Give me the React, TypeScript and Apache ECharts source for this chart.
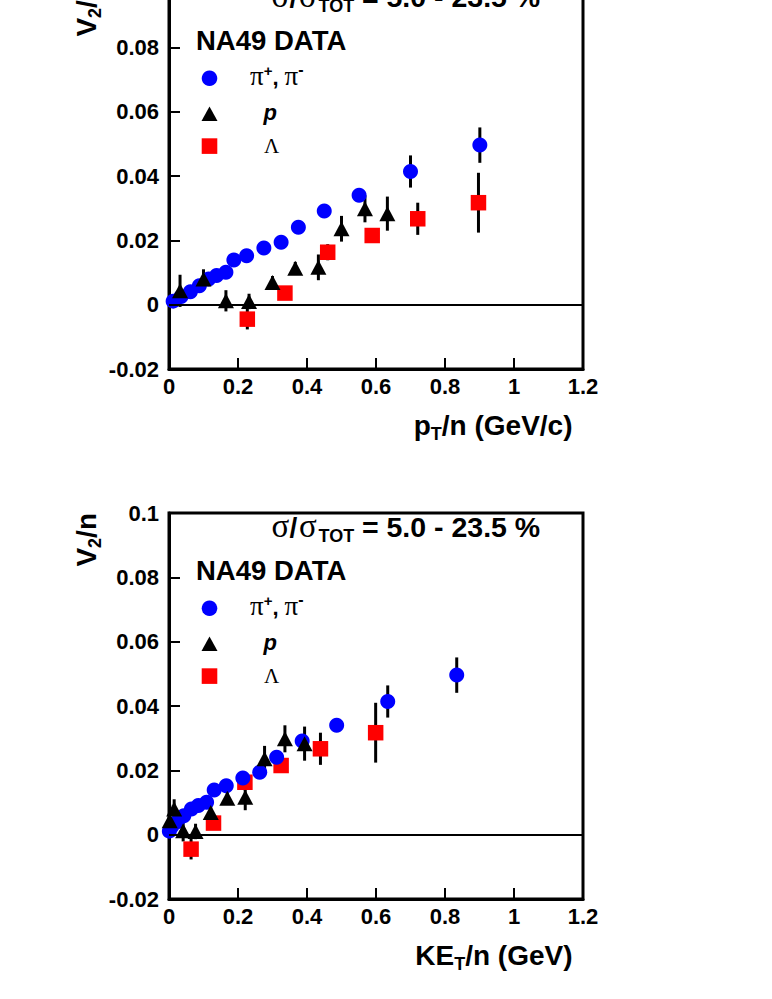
import React, { useEffect, useRef } from 'react';
import * as echarts from 'echarts';

// ---------------- data ----------------
const xTickInterval = 0.2;
const xRange = [0, 1.2];
const yRange = [-0.02, 0.1];
const yTickInterval = 0.02;

// pi+, pi-
const pionPtN = [0.012, 0.035, 0.062, 0.088, 0.115, 0.138, 0.165, 0.188, 0.225, 0.275, 0.325, 0.375, 0.45, 0.551, 0.7, 0.901];
const pionKeN = [0.001, 0.008, 0.024, 0.043, 0.065, 0.085, 0.109, 0.131, 0.166, 0.214, 0.263, 0.312, 0.386, 0.486, 0.634, 0.834];
const pionV2 = [0.0011, 0.0025, 0.004, 0.0059, 0.008, 0.0091, 0.0101, 0.0139, 0.0152, 0.0176, 0.0194, 0.0241, 0.0291, 0.034, 0.0414, 0.0496];
const pionErr = [0.0005, 0.0005, 0.0005, 0.0005, 0.0005, 0.0005, 0.0006, 0.0006, 0.0007, 0.0008, 0.0009, 0.001, 0.0012, 0.0018, 0.005, 0.0055];

// p
const protonPtN = [0.032, 0.1, 0.165, 0.232, 0.3, 0.366, 0.433, 0.5, 0.568, 0.633];
const protonKeN = [0.002, 0.015, 0.041, 0.077, 0.121, 0.169, 0.221, 0.277, 0.336, 0.393];
const protonV2 = [0.0043, 0.008, 0.0012, 0.001, 0.0069, 0.0113, 0.0116, 0.0236, 0.0298, 0.0283];
const protonErr = [0.005, 0.003, 0.0033, 0.0024, 0.002, 0.002, 0.004, 0.004, 0.0042, 0.0053];

// Lambda
const lambdaPtN = [0.227, 0.336, 0.46, 0.589, 0.721, 0.897];
const lambdaKeN = [0.064, 0.129, 0.22, 0.325, 0.439, 0.599];
const lambdaV2 = [-0.0045, 0.0036, 0.0163, 0.0215, 0.0267, 0.0317];
const lambdaErr = [0.0032, 0.002, 0.0025, 0.002, 0.005, 0.0093];

const centralityText = ' = 5.0 - 23.5 %';
const experimentText = 'NA49 DATA';

// ---------------- layout / style ----------------
const OFF = 30; // chart div starts 30px above the page top (top panel is cropped)
const PANEL_TOPS = [-17, 513]; // page y of each frame's top
const FRAME_LEFT = 169;
const FRAME_W = 414;
const FRAME_H = 386;
const SANS = 'Liberation Sans';
const SERIF = 'Liberation Serif';
const BLUE = '#0000ff';
const RED = '#ff0000';

type Piece = { t: string; size: number; family?: string; weight?: string; style?: string; dy?: number; x?: number };

function measure(ctx: CanvasRenderingContext2D, p: Piece) {
  const fam = p.family || SANS;
  ctx.font = `${p.style || 'normal'} ${p.weight || 'bold'} ${p.size}px "${fam}"`;
  return ctx.measureText(p.t).width;
}

function runWidth(ctx: CanvasRenderingContext2D, pieces: Piece[]) {
  return pieces.reduce((s, p) => s + measure(ctx, p), 0);
}

function layoutRun(ctx: CanvasRenderingContext2D, pieces: Piece[], x0: number, baseline: number) {
  let x = x0;
  const els: any[] = [];
  for (const p of pieces) {
    if (p.x !== undefined) x = p.x;
    const fam = p.family || SANS;
    const w = measure(ctx, p);
    els.push({
      type: 'text',
      x,
      y: baseline + (p.dy || 0) - 0.346 * p.size,
      silent: true,
      z: 10,
      style: {
        text: p.t,
        fontSize: p.size,
        fontFamily: fam,
        fontWeight: p.weight || 'bold',
        fontStyle: p.style || 'normal',
        fill: '#000',
        align: 'left',
        verticalAlign: 'middle',
      },
    });
    x += w;
  }
  return els;
}

function panelGraphics(ctx: CanvasRenderingContext2D, panelTop: number, xTitle: Piece[]) {
  const T = panelTop + OFF;
  const els: any[] = [];
  // centrality title
  els.push(
    ...layoutRun(
      ctx,
      [
        { t: 'σ', size: 33, family: SERIF, weight: 'normal', x: 271.5 },
        { t: '/', size: 28, x: 289.5 },
        { t: 'σ', size: 33, family: SERIF, weight: 'normal', x: 299 },
        { t: 'TOT', size: 18, dy: 5, x: 318.5 },
        { t: centralityText, size: 28.5, x: 354 },
      ],
      271.5,
      T + 24
    )
  );
  // NA49 DATA
  els.push(...layoutRun(ctx, [{ t: experimentText, size: 27.5 }], 196, T + 67));
  // legend markers
  const lx = 209.5;
  els.push({ type: 'circle', silent: true, z: 10, shape: { cx: lx, cy: T + 95.3, r: 7.8 }, style: { fill: BLUE } });
  els.push({
    type: 'polygon',
    silent: true,
    z: 10,
    shape: { points: [[lx, T + 123.5], [lx + 8, T + 138], [lx - 8, T + 138]] },
    style: { fill: '#000' },
  });
  els.push({ type: 'rect', silent: true, z: 10, shape: { x: lx - 7.8, y: T + 155.3, width: 15.6, height: 15.6 }, style: { fill: RED } });
  // legend labels
  els.push(
    ...layoutRun(
      ctx,
      [
        { t: 'π', size: 27, family: SERIF, weight: 'normal' },
        { t: '+', size: 15, dy: -9 },
        { t: ', ', size: 22 },
        { t: 'π', size: 27, family: SERIF, weight: 'normal' },
        { t: '-', size: 16, dy: -10 },
      ],
      250,
      T + 102
    )
  );
  els.push(...layoutRun(ctx, [{ t: 'p', size: 22, style: 'italic' }], 263.5, T + 137));
  els.push(...layoutRun(ctx, [{ t: 'Λ', size: 21, family: SERIF, weight: 'normal' }], 264, T + 170.3));
  // x-axis title (right aligned)
  const xw = runWidth(ctx, xTitle);
  els.push(...layoutRun(ctx, xTitle, 572.5 - xw, T + FRAME_H + 66));
  // y-axis title (rotated, right aligned to frame top)
  const yTitle: Piece[] = [
    { t: 'V', size: 28 },
    { t: '2', size: 18, dy: 5 },
    { t: '/n', size: 28 },
  ];
  const yw = runWidth(ctx, yTitle);
  els.push({
    type: 'group',
    x: 96,
    y: T,
    rotation: Math.PI / 2,
    children: layoutRun(ctx, yTitle, -yw, 0),
  });
  return els;
}

function errorBars(gi: number, xs: number[], ys: number[], es: number[]) {
  return {
    type: 'custom',
    xAxisIndex: gi,
    yAxisIndex: gi,
    z: 2,
    silent: true,
    encode: { x: 0, y: 1 },
    data: xs.map((x, i) => [x, ys[i], es[i]]),
    renderItem: (_params: any, api: any) => {
      const x = api.value(0);
      const y = api.value(1);
      const e = api.value(2);
      const a = api.coord([x, y - e]);
      const b = api.coord([x, y + e]);
      return {
        type: 'line',
        shape: { x1: a[0], y1: a[1], x2: b[0], y2: b[1] },
        style: { stroke: '#000', lineWidth: 3 },
      };
    },
  };
}

function scatter(gi: number, name: string, xs: number[], ys: number[], symbol: string, size: any, color: string, z: number) {
  return {
    type: 'scatter',
    name,
    xAxisIndex: gi,
    yAxisIndex: gi,
    z,
    silent: true,
    symbol,
    symbolSize: size,
    itemStyle: { color, opacity: 1 },
    data: xs.map((x, i) => [x, ys[i]]),
  };
}

function zeroLine(gi: number) {
  return {
    type: 'scatter',
    xAxisIndex: gi,
    yAxisIndex: gi,
    data: [],
    z: 1,
    silent: true,
    markLine: {
      silent: true,
      symbol: ['none', 'none'],
      label: { show: false },
      lineStyle: { color: '#000', width: 2, type: 'solid' },
      data: [{ yAxis: 0 }],
    },
  };
}

const axisLabelStyle = { color: '#000', fontFamily: SANS, fontWeight: 'bold', fontSize: 22 };

export default function App() {
  const ref = useRef<HTMLDivElement>(null);
  useEffect(() => {
    const el = ref.current;
    if (!el) return;
    const chart = echarts.init(el, undefined, { renderer: 'svg' });
    const ctx = document.createElement('canvas').getContext('2d') as CanvasRenderingContext2D;

    const panelX = [
      { pion: pionPtN, proton: protonPtN, lambda: lambdaPtN },
      { pion: pionKeN, proton: protonKeN, lambda: lambdaKeN },
    ];
    const xTitles: Piece[][] = [
      [
        { t: 'p', size: 28 },
        { t: 'T', size: 18, dy: 5 },
        { t: '/n (GeV/c)', size: 28 },
      ],
      [
        { t: 'KE', size: 28 },
        { t: 'T', size: 18, dy: 5 },
        { t: '/n (GeV)', size: 28 },
      ],
    ];

    const grids = PANEL_TOPS.map((t) => ({
      show: true,
      borderColor: '#000',
      borderWidth: 3,
      backgroundColor: 'transparent',
      left: FRAME_LEFT,
      top: t + OFF,
      width: FRAME_W,
      height: FRAME_H,
      containLabel: false,
    }));

    const xAxes = PANEL_TOPS.map((_, gi) => ({
      type: 'value',
      gridIndex: gi,
      min: xRange[0],
      max: xRange[1],
      interval: xTickInterval,
      axisLine: { show: true, onZero: false, lineStyle: { color: '#000', width: 3 } },
      axisTick: { show: true, inside: true, length: 11, lineStyle: { color: '#000', width: 2 } },
      axisLabel: { ...axisLabelStyle, margin: 6 },
      splitLine: { show: false },
    }));

    const yAxes = PANEL_TOPS.map((_, gi) => ({
      type: 'value',
      gridIndex: gi,
      min: yRange[0],
      max: yRange[1],
      interval: yTickInterval,
      axisLine: { show: true, onZero: false, lineStyle: { color: '#000', width: 3 } },
      axisTick: { show: true, inside: true, length: 11, lineStyle: { color: '#000', width: 2 } },
      axisLabel: { ...axisLabelStyle, margin: 10 },
      splitLine: { show: false },
    }));

    const series: any[] = [];
    panelX.forEach((px, gi) => {
      series.push(zeroLine(gi));
      series.push(errorBars(gi, px.lambda, lambdaV2, lambdaErr));
      series.push(errorBars(gi, px.pion, pionV2, pionErr));
      series.push(errorBars(gi, px.proton, protonV2, protonErr));
      series.push(scatter(gi, 'Λ', px.lambda, lambdaV2, 'rect', 15.5, RED, 3));
      series.push(scatter(gi, 'π+, π-', px.pion, pionV2, 'circle', 15, BLUE, 4));
      series.push(scatter(gi, 'p', px.proton, protonV2, 'triangle', [16, 15], '#000', 5));
    });

    const graphic: any[] = [];
    PANEL_TOPS.forEach((t, gi) => graphic.push(...panelGraphics(ctx, t, xTitles[gi])));

    chart.setOption({
      animation: false,
      backgroundColor: '#fff',
      grid: grids,
      xAxis: xAxes,
      yAxis: yAxes,
      series,
      graphic,
    });
    return () => chart.dispose();
  }, []);
  return (
    <div
      ref={ref}
      style={{ position: 'absolute', left: 0, top: -OFF, width: 772, height: 999 + OFF }}
    />
  );
}
